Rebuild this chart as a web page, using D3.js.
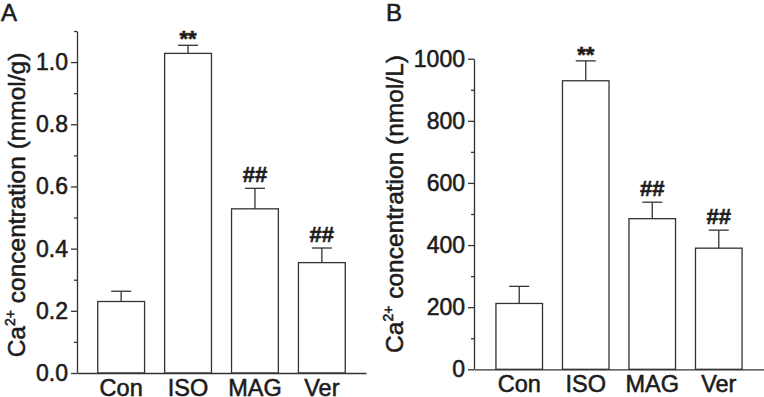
<!DOCTYPE html>
<html>
  <head>
    <meta charset="UTF-8" />
    <script src="https://cdn.jsdelivr.net/npm/d3@7"></script>
    <style>
      body { margin: 0; background: #fff; }
      svg { display: block; font-family: 'Liberation Sans', Arial, sans-serif; }
      svg text { stroke: #1c1c1c; stroke-width: 0.55px; }
    </style>
  </head>
  <body>
    <svg></svg>
    <script>
      // data
      const groups = ['Con', 'ISO', 'MAG', 'Ver']
      const marks = ['', '**', '##', '##']

      const meanA = [0.23, 1.028, 0.528, 0.355]
      const errA = [0.033, 0.026, 0.066, 0.047]
      const majorA = [0, 0.2, 0.4, 0.6, 0.8, 1.0]
      const minorA = [0.1, 0.3, 0.5, 0.7, 0.9, 1.1]

      const meanB = [212, 929, 485, 390]
      const errB = [55, 64, 53, 58]
      const majorB = [0, 200, 400, 600, 800, 1000]
      const minorB = [100, 300, 500, 700, 900]

      const width = 764
      const height = 397
      const ink = '#1c1c1c'

      const svg = d3
        .select('svg')
        .attr('width', width)
        .attr('height', height)
        .attr('viewBox', [0, 0, width, height])

      function panel(o) {
        const g = svg.append('g')

        const x = d3
          .scaleBand(groups, [o.left, o.right])
          .paddingInner(0.3)
          .paddingOuter(o.padOuter)

        const y = d3.scaleLinear([0, o.max], [o.bottom, o.top])

        // bars
        g.append('g')
          .selectAll('rect')
          .data(o.mean)
          .join('rect')
          .attr('x', (d, i) => x(groups[i]))
          .attr('y', (d) => y(d))
          .attr('width', x.bandwidth())
          .attr('height', (d) => y(0) - y(d))
          .attr('fill', '#fff')
          .attr('stroke', '#333')
          .attr('stroke-width', 1.3)

        // error bars (upper only)
        const eb = g
          .append('g')
          .attr('stroke', '#333')
          .attr('stroke-width', 1.3)
          .selectAll('g')
          .data(o.mean)
          .join('g')
          .attr('transform', (d, i) => `translate(${x(groups[i]) + x.bandwidth() / 2},0)`)
        eb.append('line')
          .attr('y1', (d) => y(d))
          .attr('y2', (d, i) => y(d + o.err[i]))
        eb.append('line')
          .attr('x1', -10)
          .attr('x2', 10)
          .attr('y1', (d, i) => y(d + o.err[i]))
          .attr('y2', (d, i) => y(d + o.err[i]))

        // significance marks
        g.append('g')
          .selectAll('text')
          .data(marks)
          .join('text')
          .attr('x', (d, i) => x(groups[i]) + x.bandwidth() / 2)
          .attr('y', (d, i) => y(o.mean[i] + o.err[i]) + (d === '**' ? 1 : -6))
          .attr('text-anchor', 'middle')
          .attr('font-weight', 'bold')
          .attr('font-size', (d) => (d === '**' ? 22 : 22))
          .attr('fill', ink)
          .text((d) => d)

        // y axis
        g.append('g')
          .attr('transform', `translate(${o.left},0)`)
          .call(
            d3.axisLeft(y).tickValues(o.major).tickFormat(o.fmt)
              .tickSize(6).tickSizeOuter(0).tickPadding(3)
          )
          .call((a) => a.selectAll('path,line').attr('stroke', '#333').attr('stroke-width', 1.3))
          .call((a) => a.selectAll('text').attr('font-size', 23).attr('fill', ink))
          .attr('font-family', null)

        g.append('g')
          .attr('transform', `translate(${o.left},0)`)
          .call(d3.axisLeft(y).tickValues(o.minor).tickFormat('').tickSize(3))
          .call((a) => a.select('.domain').remove())
          .call((a) => a.selectAll('line').attr('stroke', '#333').attr('stroke-width', 1.3))

        // x axis
        g.append('g')
          .attr('transform', `translate(0,${o.bottom})`)
          .call(d3.axisBottom(x).tickSize(0).tickPadding(6))
          .call((a) => a.select('.domain').attr('stroke', '#333').attr('stroke-width', 1.3))
          .call((a) => a.selectAll('text').attr('font-size', 23.5).attr('fill', ink))
          .attr('font-family', null)

        // y label
        const lab = g
          .append('text')
          .attr('transform', `translate(${o.labelX},${o.labelY}) rotate(-90)`)
          .attr('text-anchor', 'middle')
          .attr('font-size', 24.5)
          .attr('fill', ink)
        lab.append('tspan').text('Ca')
        lab.append('tspan').attr('font-size', 14).attr('dy', -10).text('2+')
        lab.append('tspan').attr('dy', 10).text(' concentration ' + o.unit)

        // panel letter
        g.append('text')
          .attr('x', o.letterX)
          .attr('y', 20.5)
          .attr('font-size', 24)
          .attr('fill', ink)
          .text(o.letter)
      }

      panel({
        mean: meanA, err: errA, major: majorA, minor: minorA, max: 1.1,
        fmt: d3.format('.1f'), unit: '(mmol/g)', letter: 'A',
        left: 77, right: 366, top: 31, bottom: 373, padOuter: 0.31,
        labelX: 25, labelY: 205, letterX: 1
      })

      panel({
        mean: meanB, err: errB, major: majorB, minor: minorB, max: 1000,
        fmt: d3.format('d'), unit: '(nmol/L)', letter: 'B',
        left: 474, right: 764, top: 58.7, bottom: 369.3, padOuter: 0.33,
        labelX: 403, labelY: 204, letterX: 386
      })
    </script>
  </body>
</html>
